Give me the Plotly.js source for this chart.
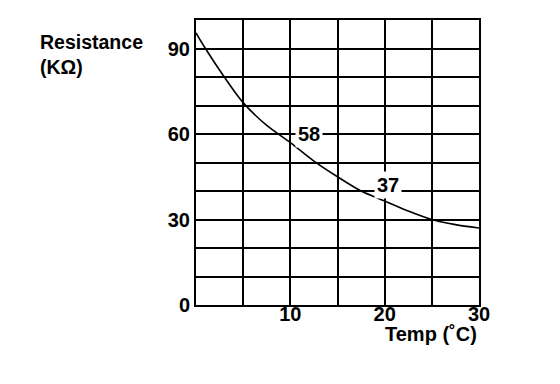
<!DOCTYPE html>
<html>
<head>
<meta charset="utf-8">
<script src="https://cdn.plot.ly/plotly-3.0.1.min.js"></script>
<style>html,body{margin:0;padding:0;background:#fff;}#chart{width:560px;height:384px;}</style>
</head>
<body>
<div id="chart"></div>
<script>
// Temperature (°C) vs resistance (KΩ)
const temps = [0, 1, 3, 5, 7.5, 10, 12.5, 15, 17.5, 20, 22.5, 25, 27.5, 30];
const resistance = [95.5, 90, 80, 71, 63, 57, 50.5, 45, 40, 36.5, 33, 30, 28.2, 27];

const xTickVals = [10, 20, 30];
const xTickText = ['10', '20', '30'];
const yTickVals = [0, 30, 60, 90];
const yTickText = ['0', '30', '60', '90'];

const markLabels = ['58', '37'];
const markX = [12.0, 20.3];
const markY = [60, 42];

const FONT = 'Liberation Sans, Arial, Helvetica, sans-serif';

const trace = {
  x: temps, y: resistance, type: 'scatter', mode: 'lines',
  line: {color: '#000', width: 1.6, shape: 'spline', smoothing: 0.8},
  hoverinfo: 'skip'
};

const annotations = markLabels.map((t, i) => ({
  x: markX[i], y: markY[i], xref: 'x', yref: 'y', text: t, showarrow: false,
  bgcolor: '#fff', borderpad: 2,
  font: {family: FONT, size: 20, color: '#000', weight: 'bold'}
}));
annotations.push({
  xref: 'paper', yref: 'paper', x: -0.56, y: 0.968, xanchor: 'left', yanchor: 'top',
  align: 'left', showarrow: false, text: 'Resistance<br>(KΩ)',
  font: {family: FONT, size: 19.5, color: '#000', weight: 'bold'}
});
annotations.push({
  xref: 'paper', yref: 'paper', x: 0.83, y: -0.102, xanchor: 'center', yanchor: 'middle',
  showarrow: false, text: 'Temp (˚C)',
  font: {family: FONT, size: 20, color: '#000', weight: 'bold'}
});

const layout = {
  width: 560, height: 384,
  margin: {l: 196, r: 81, t: 20, b: 79},
  paper_bgcolor: '#fff', plot_bgcolor: '#fff',
  showlegend: false,
  font: {family: FONT, size: 20, color: '#000', weight: 'bold'},
  xaxis: {
    range: [0, 30], tickvals: xTickVals, ticktext: xTickText,
    showgrid: true, gridcolor: '#000', gridwidth: 2,
    minor: {dtick: 5, tick0: 0, showgrid: true, gridcolor: '#000', gridwidth: 2},
    showline: true, linecolor: '#000', linewidth: 2, mirror: true,
    zeroline: false, ticks: '', ticklabelstandoff: -10,
    tickfont: {family: FONT, size: 20, color: '#000', weight: 'bold'}
  },
  yaxis: {
    range: [0, 100], tickvals: yTickVals, ticktext: yTickText,
    showgrid: true, gridcolor: '#000', gridwidth: 2,
    minor: {dtick: 10, tick0: 0, showgrid: true, gridcolor: '#000', gridwidth: 2},
    showline: true, linecolor: '#000', linewidth: 2, mirror: true,
    zeroline: false, ticks: '',
    tickfont: {family: FONT, size: 20, color: '#000', weight: 'bold'}
  },
  annotations: annotations
};

Plotly.newPlot('chart', [trace], layout, {displayModeBar: false, staticPlot: true});
</script>
</body>
</html>
